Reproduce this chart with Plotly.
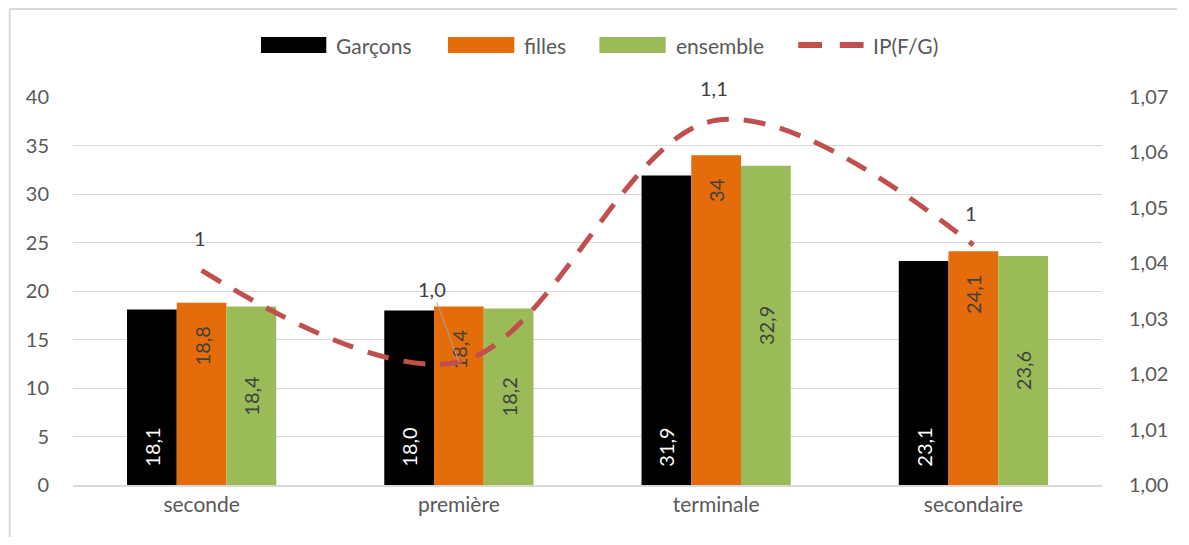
import plotly.graph_objects as go

categories = ["seconde", "première", "terminale", "secondaire"]
garcons = [18.1, 18.0, 31.9, 23.1]
filles = [18.8, 18.4, 34.0, 24.1]
ensemble = [18.4, 18.2, 32.9, 23.6]
ip = [1.0387, 1.0222, 1.0658, 1.0433]
ip_labels = ["1", "1,0", "1,1", "1"]
series_names = ["Garçons", "filles", "ensemble", "IP(F/G)"]
colors = ["#000000", "#E46C0A", "#9BBB59", "#C0504D"]


def fr(v, drop_zero=False):
    if drop_zero and v == int(v):
        return str(int(v))
    return f"{v:.1f}".replace(".", ",")


PAD_BASE = "\u00a0" * 3
PAD_END = "\u00a0" * 4

FONT = "Lato, Calibri, 'Liberation Sans', sans-serif"
GRAY = "#595959"
DARK = "#404040"

# page geometry (browser body margin 8px)
W, H = 1173, 529
ML, MR, MT, MB = 65, 68, 89, 52
PW = W - ML - MR
PH = H - MT - MB


def px_x(page_x):
    return (page_x - 8 - ML) / PW


def px_y(page_y):
    return (H - MB + 8 - page_y) / PH


fig = go.Figure()
fig.add_trace(go.Bar(
    x=categories, y=garcons, name=series_names[0], marker_color=colors[0],
    marker_line_width=0,
    text=[PAD_BASE + fr(v) for v in garcons], textposition="inside", insidetextanchor="start",
    textangle=-90, constraintext="none",
    textfont=dict(color="white", size=20, family=FONT),
))
fig.add_trace(go.Bar(
    x=categories, y=filles, name=series_names[1], marker_color=colors[1],
    marker_line_width=0,
    text=[fr(v, drop_zero=True) + PAD_END for v in filles], textposition="inside",
    insidetextanchor="end", textangle=-90, constraintext="none",
    textfont=dict(color=DARK, size=20, family=FONT),
))
fig.add_trace(go.Bar(
    x=categories, y=ensemble, name=series_names[2], marker_color=colors[2],
    marker_line_width=0,
    text=[fr(v) for v in ensemble], textposition="inside", insidetextanchor="middle",
    textangle=-90, constraintext="none",
    textfont=dict(color=DARK, size=20, family=FONT),
))
fig.add_trace(go.Scatter(
    x=categories, y=ip, name=series_names[3], yaxis="y2", mode="lines",
    line=dict(color=colors[3], width=5, dash="22px,15px", shape="spline", smoothing=1.0),
))

for i, (c, v, lab) in enumerate(zip(categories, ip, ip_labels)):
    if i == 1:
        fig.add_annotation(x=c, y=v, yref="y2", text=lab, showarrow=True,
                           arrowhead=0, arrowcolor="#A6A6A6", arrowwidth=1,
                           ax=-27, ay=-73, font=dict(size=20, color=DARK, family=FONT))
    else:
        fig.add_annotation(x=c, y=v, yref="y2", text=lab, showarrow=False,
                           yshift=32, xshift=-2, font=dict(size=20, color=DARK, family=FONT))

# custom legend (wide swatches like the original)
leg_y = px_y(45)
swatches = [(263, 329), (452, 519), (605, 672)]
text_x = [337, 527, 680, 880]
for (x0, x1), col in zip(swatches, colors[:3]):
    fig.add_shape(type="rect", xref="paper", yref="paper",
                  x0=px_x(x0), x1=px_x(x1), y0=px_y(53), y1=px_y(37),
                  fillcolor=col, line=dict(width=0))
for d0, d1 in [(806, 830), (848, 872)]:
    fig.add_shape(type="line", xref="paper", yref="paper",
                  x0=px_x(d0), x1=px_x(d1), y0=leg_y, y1=leg_y,
                  line=dict(color=colors[3], width=6))
for name, tx in zip(series_names, text_x):
    fig.add_annotation(xref="paper", yref="paper", x=px_x(tx), y=leg_y,
                       text=name, showarrow=False, xanchor="left", yanchor="middle",
                       font=dict(size=21, color=GRAY, family=FONT))

# chart border (left and top)
fig.add_shape(type="line", xref="paper", yref="paper", x0=px_x(9), x1=px_x(9),
              y0=px_y(545), y1=px_y(9), line=dict(color="#D9D9D9", width=2))
fig.add_shape(type="line", xref="paper", yref="paper", x0=px_x(9), x1=px_x(1189),
              y0=px_y(9), y1=px_y(9), line=dict(color="#D9D9D9", width=2))

fig.update_layout(
    width=W, height=H,
    margin=dict(l=ML, r=MR, t=MT, b=MB),
    paper_bgcolor="white", plot_bgcolor="white",
    barmode="group", bargap=0.42, bargroupgap=0,
    font=dict(family=FONT, size=20, color=GRAY),
    showlegend=False,
    xaxis=dict(showgrid=False, showline=True, linecolor="#D9D9D9", linewidth=2,
               ticks="", tickfont=dict(size=21, color=GRAY)),
    yaxis=dict(range=[0, 40], dtick=5, showgrid=True, gridcolor="#D9D9D9", gridwidth=1,
               zeroline=False, showline=False, ticks="", tickfont=dict(size=20, color=GRAY),
               ticklabelstandoff=23),
    yaxis2=dict(range=[1.0, 1.07], dtick=0.01, overlaying="y", side="right",
                showgrid=False, zeroline=False, showline=False, tickformat=".2f",
                tickfont=dict(size=20, color=GRAY), ticklabelstandoff=26),
    separators=", ",
)

fig.write_html("out.html")
